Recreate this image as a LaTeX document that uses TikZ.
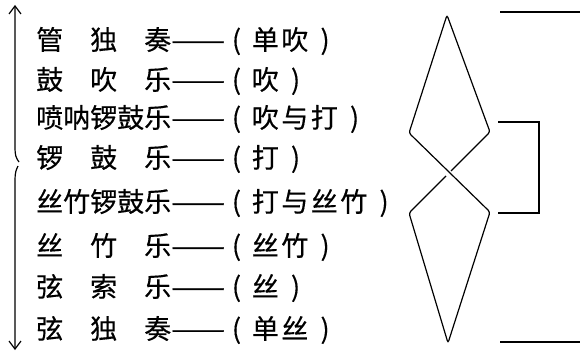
\documentclass[tikz,border=0pt]{standalone}
\usepackage{fontspec}
\usepackage{graphicx}
\setmainfont{Noto Sans CJK SC}[FakeBold=0.35]
\usetikzlibrary{arrows.meta}
\newcommand\dsh{\resizebox{2em}{\height}{——}}
\newcommand\lp{\hspace{0.25em}(\hspace{0.4em}}
\newcommand\rp{\hspace{0.45em})}
\newcommand\ks{\kern2.5pt}
\begin{document}
\begin{tikzpicture}[x=1pt,y=-1pt,
  row/.style={anchor=west,inner sep=0pt,font=\fontsize{27}{27}\selectfont},
  ln/.style={line width=1.2pt},
  tip/.style={-{Straight Barb[length=8pt,width=12pt]}}]
\useasboundingbox (0,0) rectangle (580,353);
% rows
\node[row] (r1) at (36,41)  {管\hspace{1em}独\hspace{1em}奏\dsh\lp 单\ks 吹\rp};
\node[row] (r2) at (36,81)  {鼓\hspace{1em}吹\hspace{1em}乐\dsh\lp 吹\rp};
\node[row] (r3) at (36,119) {喷呐锣鼓乐\dsh\lp 吹\ks 与\ks 打\rp};
\node[row] (r4) at (36,159) {锣\hspace{1em}鼓\hspace{1em}乐\dsh\lp 打\rp};
\node[row] (r5) at (36,203) {丝竹锣鼓乐\dsh\lp 打\ks 与\ks 丝\ks 竹\rp};
\node[row] (r6) at (36,247) {丝\hspace{1em}竹\hspace{1em}乐\dsh\lp 丝\ks 竹\rp};
\node[row] (r7) at (36,288) {弦\hspace{1em}索\hspace{1em}乐\dsh\lp 丝\rp};
\node[row] (r8) at (36,330) {弦\hspace{1em}独\hspace{1em}奏\dsh\lp 单\ks 丝\rp};
% left double arrow with brace point
\coordinate (ua) at (19,162);
\coordinate (la) at (18,166);
\coordinate (topend) at (15,5);
\coordinate (botend) at (15,350);
\draw[ln,tip] (ua) .. controls (16,158) and (15,155) .. (15,148) -- (topend);
\draw[ln,tip] (la) .. controls (16,170) and (15,173) .. (15,180) -- (botend);
% crossed diamonds
\draw[ln,rounded corners=2.5pt] (451,171) -- (490,132) -- (447,15) -- (409,133)
  -- (490,212) -- (448,343) -- (409,213) -- (446,176);
% right lines
\coordinate (t1) at (500,12);  \coordinate (t2) at (580,12);
\coordinate (b1) at (500,342); \coordinate (b2) at (580,342);
\coordinate (m1) at (498,122); \coordinate (m2) at (539,122);
\coordinate (m3) at (539,213); \coordinate (m4) at (498,213);
\draw[ln] (t1) -- (t2);
\draw[ln] (b1) -- (b2);
\draw[ln] (m1) -- (m2) -- (m3) -- (m4);
\end{tikzpicture}
\end{document}
